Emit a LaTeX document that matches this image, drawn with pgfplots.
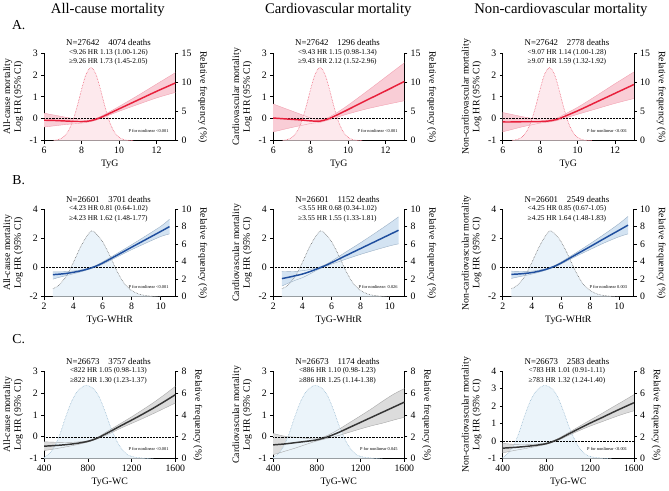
\documentclass[border=0pt]{standalone}
\usepackage{pgfplots}
\pgfplotsset{compat=1.18}
\usepackage{pgfplotstable}
\usepgfplotslibrary{fillbetween}
\usepackage{fontspec}
\setmainfont{Liberation Serif}

\definecolor{redline}{HTML}{E8203C}
\definecolor{pinkband}{HTML}{F9CDD6}
\definecolor{pinkedge}{HTML}{F2A0B0}
\definecolor{pinkfill}{HTML}{FDE9ED}
\definecolor{pinkdot}{HTML}{EE5A72}
\definecolor{blueline}{HTML}{1F4E9E}
\definecolor{blueband}{HTML}{D3E3F2}
\definecolor{blueedge}{HTML}{9AAFC4}
\definecolor{bluefill}{HTML}{EAF3FA}
\definecolor{graydot}{HTML}{6E6E6E}
\definecolor{darkline}{HTML}{353535}
\definecolor{grayband}{HTML}{DCDCDC}
\definecolor{grayedge}{HTML}{A8A8A8}
\definecolor{cfill}{HTML}{EBF4FA}
\definecolor{cdot}{HTML}{93B6CE}

% ---------- density tables ----------
\pgfplotstableread{
x f
6.5 0.05
6.75 0.17
7 0.55
7.25 1.43
7.5 3.12
7.75 5.72
8 8.84
8.25 11.46
8.5 12.5
8.75 11.46
9 8.84
9.25 5.72
9.5 3.12
9.75 1.43
10 0.55
10.25 0.17
10.5 0.05
10.75 0.01
}\densA
\pgfplotstableread{
x f
2.6 0.9
3 1.3
3.5 2.3
4 3.9
4.5 5.7
5 7.1
5.25 7.5
5.5 7.3
6 6.3
6.5 4.7
7 2.9
7.5 1.5
8 0.7
8.5 0.3
9 0.12
9.5 0.04
10 0.0
}\densB
\pgfplotstableread{
x f
400 0.1
450 0.5
500 1.2
550 2.4
600 3.9
650 5.2
700 6.1
750 6.55
790 6.7
850 6.4
900 5.7
950 4.5
1000 3.1
1050 1.9
1100 1.0
1150 0.45
1200 0.2
1300 0.05
1400 0.0
}\densC

% ---------- HR tables ----------
\pgfplotstableread{
x y lo hi
6 -0.07 -0.38 0.25
6.5 -0.08 -0.33 0.17
7 -0.10 -0.28 0.09
7.5 -0.12 -0.24 0.01
8 -0.13 -0.20 -0.06
8.25 -0.12 -0.17 -0.07
8.5 -0.09 -0.13 -0.05
8.75 -0.03 -0.07 0.01
9 0.05 0.00 0.10
9.26 0.15 0.09 0.21
10 0.45 0.34 0.56
11 0.85 0.65 1.06
12 1.25 0.95 1.58
13 1.63 1.20 2.10
}\Aone
\pgfplotstableread{
x y lo hi
6 0.03 -0.60 0.67
6.5 0.00 -0.50 0.51
7 -0.03 -0.40 0.35
7.5 -0.06 -0.31 0.19
8 -0.10 -0.22 0.03
8.25 -0.11 -0.19 -0.02
8.5 -0.11 -0.17 -0.05
8.75 -0.06 -0.11 -0.01
9 0.01 -0.05 0.08
9.43 0.18 0.07 0.29
10 0.42 0.22 0.62
11 0.85 0.45 1.25
12 1.27 0.64 1.90
13 1.70 0.82 2.55
}\Atwo
\pgfplotstableread{
x y lo hi
6 -0.15 -0.60 0.28
6.5 -0.15 -0.49 0.19
7 -0.14 -0.38 0.10
7.5 -0.14 -0.29 0.02
8 -0.13 -0.20 -0.06
8.25 -0.12 -0.17 -0.07
8.5 -0.10 -0.15 -0.05
8.75 -0.06 -0.11 -0.01
9 0.00 -0.06 0.07
10 0.36 0.20 0.52
11 0.76 0.45 1.05
12 1.16 0.70 1.60
13 1.56 0.92 2.13
}\Athree
\pgfplotstableread{
x y lo hi
2.6 -0.49 -0.80 -0.30
3 -0.46 -0.68 -0.30
3.5 -0.41 -0.56 -0.28
4 -0.33 -0.43 -0.24
4.5 -0.23 -0.30 -0.17
5 -0.10 -0.15 -0.05
5.5 0.07 0.02 0.12
6 0.30 0.22 0.38
7 0.84 0.72 0.96
8 1.39 1.22 1.56
9 1.93 1.68 2.18
10 2.47 2.12 2.82
10.6 2.80 2.30 3.30
}\Bone
\pgfplotstableread{
x y lo hi
2.6 -0.76 -1.27 -0.27
3 -0.68 -1.09 -0.28
3.5 -0.57 -0.88 -0.27
4 -0.45 -0.70 -0.22
4.5 -0.29 -0.45 -0.14
5 -0.10 -0.18 -0.02
5.5 0.10 0.04 0.16
6 0.33 0.23 0.43
7 0.82 0.57 1.07
8 1.30 0.90 1.70
9 1.78 1.20 2.36
10 2.26 1.48 3.04
10.6 2.55 1.62 3.47
}\Btwo
\pgfplotstableread{
x y lo hi
2.6 -0.47 -0.75 -0.25
3 -0.45 -0.66 -0.27
3.5 -0.41 -0.56 -0.27
4 -0.35 -0.45 -0.25
4.5 -0.25 -0.32 -0.18
5 -0.12 -0.17 -0.07
5.5 0.06 0.01 0.11
6 0.30 0.23 0.37
7 0.87 0.75 0.99
8 1.43 1.23 1.63
9 2.00 1.70 2.30
10 2.56 2.11 3.01
10.6 2.90 2.30 3.50
}\Bthree
\pgfplotstableread{
x y lo hi
400 -0.43 -0.63 -0.23
500 -0.40 -0.55 -0.25
600 -0.36 -0.46 -0.26
700 -0.30 -0.36 -0.24
800 -0.21 -0.24 -0.18
850 -0.13 -0.16 -0.10
900 -0.03 -0.07 0.01
1000 0.23 0.15 0.31
1100 0.50 0.39 0.61
1200 0.76 0.61 0.91
1300 1.03 0.83 1.23
1400 1.31 1.06 1.56
1500 1.61 1.30 1.92
1600 1.92 1.54 2.30
}\Cone
\pgfplotstableread{
x y lo hi
400 -0.37 -0.82 0.15
500 -0.33 -0.67 0.03
600 -0.27 -0.52 -0.02
700 -0.21 -0.35 -0.07
800 -0.14 -0.19 -0.09
900 0.00 -0.07 0.07
1000 0.20 0.06 0.34
1100 0.43 0.21 0.65
1200 0.66 0.36 0.96
1300 0.89 0.50 1.28
1400 1.12 0.62 1.62
1500 1.35 0.76 1.94
1600 1.58 0.89 2.20
}\Ctwo
\pgfplotstableread{
x y lo hi
400 -0.40 -0.67 -0.13
500 -0.36 -0.54 -0.18
600 -0.31 -0.43 -0.19
700 -0.24 -0.31 -0.17
800 -0.14 -0.18 -0.10
900 0.08 0.03 0.13
1000 0.40 0.32 0.48
1100 0.72 0.60 0.84
1200 1.03 0.86 1.20
1300 1.32 1.09 1.55
1400 1.62 1.32 1.92
1500 1.91 1.54 2.28
1600 2.19 1.73 2.65
}\Cthree

\pgfplotsset{
  base/.style={scale only axis, width=134pt, height=89.5pt, anchor=south west, clip=false,
    axis line style={black, line width=0.7pt},
    major tick style={black, line width=0.7pt}, major tick length=3pt, tick align=outside,
    tick label style={font=\fontsize{10}{12}\selectfont},
    label style={font=\fontsize{10}{11}\selectfont},
    /pgf/number format/assume math mode=true,
    /pgf/number format/set thousands separator={}},
  hrax/.style={base, axis x line*=bottom, axis y line*=left, ylabel style={align=center}},
  frax/.style={base, axis x line=none, axis y line*=right, ymin=0,
    ylabel={Relative frequency (\%)}, ylabel style={rotate=180}},
  xA/.style={xmin=6, xmax=13, xtick={6,8,10,12}},
  xB/.style={xmin=2, xmax=11, xtick={2,4,6,8,10}},
  xC/.style={xmin=400, xmax=1600, xtick={400,800,1200,1600}},
  fA/.style={ymax=15, ytick={0,5,10,15}},
  fB/.style={ymax=10, ytick={0,2,4,6,8,10}},
  fC/.style={ymax=8, ytick={0,2,4,6,8}},
}

\newcommand\hdr[4]{%
  \node[font=\fontsize{9}{10}\selectfont] at (rel axis cs:0.49,1.115) {#1};
  \node[font=\fontsize{7.5}{9}\selectfont] at (rel axis cs:0.49,1.0) {#2};
  \node[font=\fontsize{7.5}{9}\selectfont] at (rel axis cs:0.49,0.895) {#3};
  \node[font=\fontsize{4.5}{5}\selectfont, anchor=east] at (rel axis cs:0.975,0.11) {#4};
}
% #1 table, #2 line colour, #3 band colour, #4 edge colour, #5 xmin, #6 xmax
\newcommand\hrplots[6]{%
  \addplot[draw=none, name path=hi, smooth] table[x=x,y=hi]{#1};
  \addplot[draw=none, name path=lo, smooth] table[x=x,y=lo]{#1};
  \addplot[fill=#3, draw=none] fill between[of=hi and lo];
  \addplot[#4, line width=0.4pt, smooth] table[x=x,y=hi]{#1};
  \addplot[#4, line width=0.4pt, smooth] table[x=x,y=lo]{#1};
  \addplot[black, densely dotted, line width=0.5pt] coordinates {(#5,0) (#6,0)};
  \addplot[#2, line width=1.5pt, smooth] table[x=x,y=y]{#1};
}
% #1 table, #2 fill, #3 dotted colour
\newcommand\densplots[3]{%
  \addplot[fill=#2, draw=none, smooth] table[x=x,y=f]{#1} \closedcycle;
  \addplot[#3, densely dotted, line width=0.6pt, smooth] table[x=x,y=f]{#1};
}

\begin{document}
\begin{tikzpicture}
\path (0,0) rectangle (669pt,-494pt);

\node[font=\fontsize{15}{18}\selectfont] at (102pt,-7.5pt) {All-cause mortality};
\node[font=\fontsize{15}{18}\selectfont] at (337.5pt,-7.5pt) {Cardiovascular mortality};
\node[font=\fontsize{15}{18}\selectfont] at (565pt,-7.5pt) {Non-cardiovascular mortality};
\node[font=\fontsize{14}{16}\selectfont] at (11pt,-23pt) {A.};
\node[font=\fontsize{14}{16}\selectfont] at (11pt,-181pt) {B.};
\node[font=\fontsize{14}{16}\selectfont] at (11pt,-344pt) {C.};

% ================= Row A =================
\begin{axis}[frax, xA, fA, at={(37pt,-141pt)}]
\densplots{\densA}{pinkfill}{pinkdot}
\end{axis}
\begin{axis}[hrax, xA, at={(37pt,-141pt)}, ymin=-1, ymax=3, ytick={-1,0,1,2,3},
  xlabel={TyG}, ylabel={All-cause mortality\\Log HR (95\% CI)}]
\hrplots{\Aone}{redline}{pinkband}{pinkedge}{6}{13}
\hdr{N=27642\quad 4074 deaths}{<9.26 HR 1.13 (1.00-1.26)}{≥9.26 HR 1.73 (1.45-2.05)}{P for nonlinear <0.001}
\end{axis}

\begin{axis}[frax, xA, fA, at={(271pt,-141pt)}]
\densplots{\densA}{pinkfill}{pinkdot}
\end{axis}
\begin{axis}[hrax, xA, at={(271pt,-141pt)}, ymin=-1, ymax=3, ytick={-1,0,1,2,3},
  xlabel={TyG}, ylabel={Cardiovascular mortality\\Log HR (95\% CI)}]
\hrplots{\Atwo}{redline}{pinkband}{pinkedge}{6}{13}
\hdr{N=27642\quad 1296 deaths}{<9.43 HR 1.15 (0.98-1.34)}{≥9.43 HR 2.12 (1.52-2.96)}{P for nonlinear <0.001}
\end{axis}

\begin{axis}[frax, xA, fA, at={(505.5pt,-141pt)}]
\densplots{\densA}{pinkfill}{pinkdot}
\end{axis}
\begin{axis}[hrax, xA, at={(505.5pt,-141pt)}, ymin=-1, ymax=3, ytick={-1,0,1,2,3},
  xlabel={TyG}, ylabel={Non-cardiovascular mortality\\Log HR (95\% CI)}]
\hrplots{\Athree}{redline}{pinkband}{pinkedge}{6}{13}
\hdr{N=27642\quad 2778 deaths}{<9.07 HR 1.14 (1.00-1.28)}{≥9.07 HR 1.59 (1.32-1.92)}{P for nonlinear <0.001}
\end{axis}

% ================= Row B =================
\begin{axis}[frax, xB, fB, at={(37pt,-300.5pt)}]
\densplots{\densB}{bluefill}{graydot}
\end{axis}
\begin{axis}[hrax, xB, at={(37pt,-300.5pt)}, ymin=-2, ymax=4, ytick={-2,0,2,4},
  xlabel={TyG-WHtR}, ylabel={All-cause mortality\\Log HR (95\% CI)}]
\hrplots{\Bone}{blueline}{blueband}{blueedge}{2}{11}
\hdr{N=26601\quad 3701 deaths}{<4.23 HR 0.81 (0.64-1.02)}{≥4.23 HR 1.62 (1.48-1.77)}{P for nonlinear <0.001}
\end{axis}

\begin{axis}[frax, xB, fB, at={(271pt,-300.5pt)}]
\densplots{\densB}{bluefill}{graydot}
\end{axis}
\begin{axis}[hrax, xB, at={(271pt,-300.5pt)}, ymin=-2, ymax=4, ytick={-2,0,2,4},
  xlabel={TyG-WHtR}, ylabel={Cardiovascular mortality\\Log HR (95\% CI)}]
\hrplots{\Btwo}{blueline}{blueband}{blueedge}{2}{11}
\hdr{N=26601\quad 1152 deaths}{<3.55 HR 0.68 (0.34-1.02)}{≥3.55 HR 1.55 (1.33-1.81)}{P for nonlinear: 0.026}
\end{axis}

\begin{axis}[frax, xB, fB, at={(505.5pt,-300.5pt)}]
\densplots{\densB}{bluefill}{graydot}
\end{axis}
\begin{axis}[hrax, xB, at={(505.5pt,-300.5pt)}, ymin=-2, ymax=4, ytick={-2,0,2,4},
  xlabel={TyG-WHtR}, ylabel={Non-cardiovascular mortality\\Log HR (95\% CI)}]
\hrplots{\Bthree}{blueline}{blueband}{blueedge}{2}{11}
\hdr{N=26601\quad 2549 deaths}{<4.25 HR 0.85 (0.67-1.05)}{≥4.25 HR 1.64 (1.48-1.83)}{P for nonlinear 0.003}
\end{axis}

% ================= Row C =================
\begin{axis}[frax, xC, fC, at={(37pt,-466pt)}]
\densplots{\densC}{cfill}{cdot}
\end{axis}
\begin{axis}[hrax, xC, at={(37pt,-466pt)}, ymin=-1, ymax=3, ytick={-1,0,1,2,3},
  xlabel={TyG-WC}, ylabel={All-cause mortality\\Log HR (95\% CI)}]
\hrplots{\Cone}{darkline}{grayband}{grayedge}{400}{1600}
\hdr{N=26673\quad 3757 deaths}{<822 HR 1.05 (0.98-1.13)}{≥822 HR 1.30 (1.23-1.37)}{P for nonlinear <0.001}
\end{axis}

\begin{axis}[frax, xC, fC, at={(271pt,-466pt)}]
\densplots{\densC}{cfill}{cdot}
\end{axis}
\begin{axis}[hrax, xC, at={(271pt,-466pt)}, ymin=-1, ymax=3, ytick={-1,0,1,2,3},
  xlabel={TyG-WC}, ylabel={Cardiovascular mortality\\Log HR (95\% CI)}]
\hrplots{\Ctwo}{darkline}{grayband}{grayedge}{400}{1600}
\hdr{N=26673\quad 1174 deaths}{<886 HR 1.10 (0.98-1.23)}{≥886 HR 1.25 (1.14-1.38)}{P for nonlinear 0.045}
\end{axis}

\begin{axis}[frax, xC, fC, at={(505.5pt,-466pt)}]
\densplots{\densC}{cfill}{cdot}
\end{axis}
\begin{axis}[hrax, xC, at={(505.5pt,-466pt)}, ymin=-1, ymax=4, ytick={-1,0,1,2,3,4},
  xlabel={TyG-WC}, ylabel={Non-cardiovascular mortality\\Log HR (95\% CI)}]
\hrplots{\Cthree}{darkline}{grayband}{grayedge}{400}{1600}
\hdr{N=26673\quad 2583 deaths}{<783 HR 1.01 (0.91-1.11)}{≥783 HR 1.32 (1.24-1.40)}{P for nonlinear <0.001}
\end{axis}
\end{tikzpicture}
\end{document}
